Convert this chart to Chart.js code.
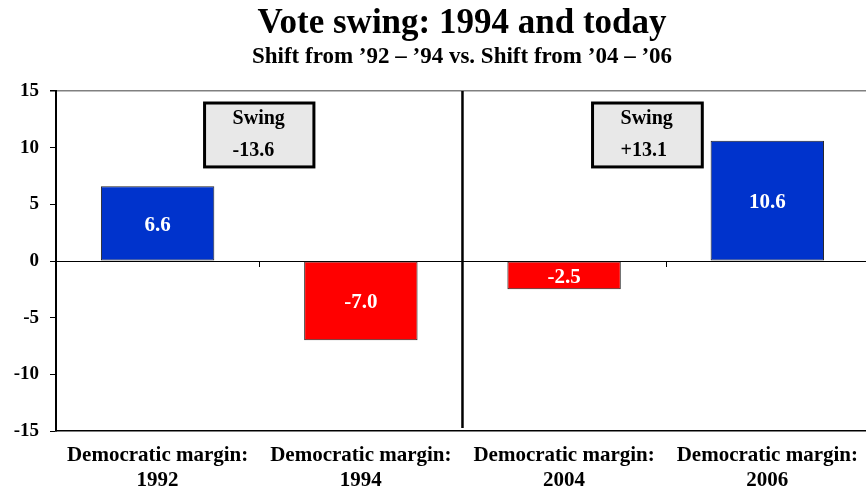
<!DOCTYPE html>
<html>
<head>
<meta charset="utf-8">
<script src="https://cdn.jsdelivr.net/npm/chart.js@4/dist/chart.umd.min.js"></script>
<style>
html,body{margin:0;padding:0;background:#fff;overflow:hidden;width:866px;height:491px;}
canvas{display:block;}
</style>
</head>
<body>
<canvas id="c" width="870" height="491"></canvas>
<script>
const categories = [["Democratic margin:", "1992"], ["Democratic margin:", "1994"], ["Democratic margin:", "2004"], ["Democratic margin:", "2006"]];
const margins = [6.6, -7.0, -2.5, 10.6];
const barColors = ["#0033CC", "#FF0000", "#FF0000", "#0033CC"];
const swingLabels = ["-13.6", "+13.1"];
const yTicks = [15, 10, 5, 0, -5, -10, -15];
const titleText = "Vote swing: 1994 and today";
const subtitleText = "Shift from \u201992 \u2013 \u201994 vs. Shift from \u201904 \u2013 \u201906";

const SERIF = "'Liberation Serif', 'Times New Roman', serif";

const decor = {
  id: 'decor',
  afterDraw(chart, args, opts) {
    const ctx = chart.ctx;
    const area = chart.chartArea;
    const xs = chart.scales.x, ys = chart.scales.y;
    ctx.save();
    const cx = 462;
    ctx.fillStyle = '#000';
    ctx.textAlign = 'center';
    ctx.textBaseline = 'alphabetic';
    ctx.font = 'bold 35px ' + SERIF;
    ctx.fillText(titleText, cx, 33);
    ctx.font = 'bold 23px ' + SERIF;
    ctx.fillText(subtitleText, cx, 63);
    const y0 = ys.getPixelForValue(0);
    ctx.strokeStyle = '#000';
    ctx.lineWidth = 1;
    for (let i = 0; i < categories.length - 1; i++) {
      const x = Math.round(xs.getPixelForValue(i + 0.5)) + 0.5;
      ctx.beginPath();
      ctx.moveTo(x, y0);
      ctx.lineTo(x, y0 + 6);
      ctx.stroke();
    }
    const xd = xs.getPixelForValue(1.5);
    ctx.lineWidth = 2.5;
    ctx.beginPath();
    ctx.moveTo(xd, area.top);
    ctx.lineTo(xd, area.bottom - 3);
    ctx.stroke();
    opts.boxes.forEach((b, i) => {
      const l = xs.getPixelForValue(b.x0), r = xs.getPixelForValue(b.x1);
      const t = ys.getPixelForValue(b.y0), btm = ys.getPixelForValue(b.y1);
      ctx.fillStyle = '#E8E8E8';
      ctx.fillRect(l, t, r - l, btm - t);
      ctx.lineWidth = 3;
      ctx.strokeStyle = '#000';
      ctx.strokeRect(l, t, r - l, btm - t);
      ctx.fillStyle = '#000';
      ctx.textAlign = 'left';
      ctx.font = 'bold 20px ' + SERIF;
      ctx.fillText('Swing', l + 28, t + 21);
      ctx.fillText(swingLabels[i], l + 28, t + 53);
    });
    ctx.restore();
  },
  afterDatasetsDraw(chart) {
    const ctx = chart.ctx;
    const meta = chart.getDatasetMeta(0);
    ctx.save();
    ctx.fillStyle = '#fff';
    ctx.textAlign = 'center';
    ctx.textBaseline = 'middle';
    ctx.font = 'bold 21px ' + SERIF;
    meta.data.forEach((bar, i) => {
      const v = chart.data.datasets[0].data[i];
      ctx.fillText(v.toFixed(1), bar.x, (bar.y + bar.base) / 2 + 2);
    });
    ctx.restore();
  }
};

new Chart(document.getElementById('c'), {
  type: 'bar',
  data: {
    labels: categories,
    datasets: [{
      data: margins,
      backgroundColor: barColors,
      borderColor: '#222',
      borderWidth: 1,
      borderSkipped: false,
      barPercentage: 0.558,
      categoryPercentage: 1.0
    }]
  },
  options: {
    responsive: false,
    animation: false,
    devicePixelRatio: 1,
    layout: { padding: { top: 91, right: 0, left: 0, bottom: 0 } },
    plugins: {
      legend: { display: false },
      tooltip: { enabled: false },
      title: { display: false },
      decor: {
        boxes: [
          { x0: 0.231, x1: 0.769, y0: 13.94, y1: 8.3 },
          { x0: 2.14, x1: 2.68, y0: 13.94, y1: 8.3 }
        ]
      }
    },
    scales: {
      x: {
        position: 'bottom',
        grid: { display: false, drawTicks: false },
        border: { display: true, color: '#000', width: 1.5 },
        ticks: {
          color: '#000',
          font: { family: SERIF, size: 21, weight: 'bold', lineHeight: 1.2 },
          padding: 12,
          autoSkip: false,
          maxRotation: 0,
          minRotation: 0
        },
        afterFit(scale) { scale.height = 60; }
      },
      y: {
        min: -15,
        max: 15,
        afterBuildTicks(scale) { scale.ticks = yTicks.map(v => ({ value: v })); },
        grid: {
          drawOnChartArea: true,
          color(ctx) {
            const v = ctx.tick && ctx.tick.value;
            if (v === 0) return '#000';
            if (v === 15) return '#808080';
            return 'rgba(0,0,0,0)';
          },
          lineWidth(ctx) { return (ctx.tick && ctx.tick.value === 15) ? 1.5 : 1; },
          tickColor: '#000',
          tickLength: 6
        },
        border: { display: true, color: '#000', width: 2 },
        ticks: {
          color: '#000',
          font: { family: SERIF, size: 19, weight: 'bold' },
          padding: 11
        },
        afterFit(scale) { scale.width = 56; }
      }
    }
  },
  plugins: [decor]
});
</script>
</body>
</html>
